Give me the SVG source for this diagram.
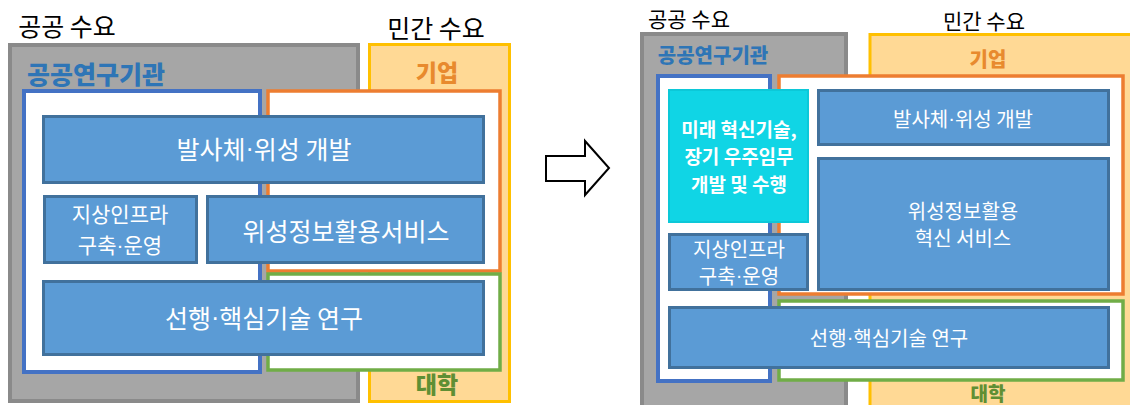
<svg xmlns="http://www.w3.org/2000/svg" width="1130" height="405" viewBox="0 0 1130 405">
<style>
text{font-family:"Noto Sans CJK KR","Noto Sans",sans-serif;text-anchor:middle;dominant-baseline:central}
.dot{font-family:"Liberation Sans",sans-serif}
.hdr{fill:#000;font-size:25px}
.hdr2{fill:#000;font-size:21px}
.gray{fill:#a6a6a6;stroke:#8a8a8a;stroke-width:4}
.yel{fill:#ffd995;stroke:#ffc000;stroke-width:3}
.org{fill:#2e75b6;font-weight:900}
.corp{fill:#e88a2e;font-weight:900}
.univ{fill:#5f8f34;font-weight:900}
.bluebox{fill:#fff;stroke:#4472c4;stroke-width:4}
.orbox{fill:#fff;stroke:#ed7d31;stroke-width:3.5}
.grbox{fill:#fff;stroke:#70ad47;stroke-width:3.5}
.blk{fill:#5b9bd5;stroke:#41719c;stroke-width:3}
.cyan{fill:#10d5e5;stroke:#0cc8d8;stroke-width:2}
.wt{fill:#fff}
</style>
<rect width="1130" height="405" fill="#fff"/>

<!-- LEFT DIAGRAM -->
<g id="left-public">
  <text class="hdr" x="67" y="25">공공 수요</text>
  <rect class="gray" x="10" y="45" width="348" height="356"/>
  <text class="org" x="96" y="73" font-size="25">공공연구기관</text>
</g>
<g id="left-private">
  <text class="hdr" x="436" y="27">민간 수요</text>
  <rect class="yel" x="369.5" y="44.5" width="140" height="357"/>
  <text class="corp" x="437" y="71" font-size="23">기업</text>
  <text class="univ" x="437" y="383" font-size="23">대학</text>
</g>
<g id="left-institute-area"><rect class="bluebox" x="24" y="91" width="236" height="281"/></g>
<g id="left-corp-area"><rect class="orbox" x="268" y="91" width="232" height="180"/></g>
<g id="left-univ-area"><rect class="grbox" x="268" y="274" width="232" height="96"/></g>
<g id="left-launch">
  <rect class="blk" x="43.5" y="116.5" width="440" height="66"/>
  <text class="wt" x="264" y="148" font-size="25">발사체<tspan class="dot">·</tspan>위성 개발</text>
</g>
<g id="left-ground">
  <rect class="blk" x="44.5" y="196.5" width="152" height="66"/>
  <text class="wt" x="120" y="213" font-size="21">지상인프라</text>
  <text class="wt" x="120" y="244" font-size="21">구축<tspan class="dot">·</tspan>운영</text>
</g>
<g id="left-service">
  <rect class="blk" x="207.5" y="196.5" width="276" height="66"/>
  <text class="wt" x="346" y="230" font-size="25">위성정보활용서비스</text>
</g>
<g id="left-research">
  <rect class="blk" x="43.5" y="281.5" width="440" height="73"/>
  <text class="wt" x="264" y="317" font-size="25">선행<tspan class="dot">·</tspan>핵심기술 연구</text>
</g>

<!-- CONNECTOR ARROW -->
<g id="connectors">
  <polygon points="546,156 585,156 585,141 609,168 585,195 585,181 546,181" fill="#fff" stroke="#000" stroke-width="2"/>
</g>

<!-- RIGHT DIAGRAM -->
<g id="right-public">
  <text class="hdr2" x="689" y="18">공공 수요</text>
  <rect class="gray" x="642" y="34" width="204" height="390"/>
  <text class="org" x="713" y="54" font-size="20">공공연구기관</text>
</g>
<g id="right-private">
  <text class="hdr2" x="984" y="20">민간 수요</text>
  <rect class="yel" x="870" y="34.5" width="280" height="390"/>
  <text class="corp" x="988" y="58" font-size="20">기업</text>
  <text class="univ" x="988" y="392" font-size="19">대학</text>
</g>
<g id="right-institute-area"><rect class="bluebox" x="658" y="76" width="112" height="305"/></g>
<g id="right-corp-area"><rect class="orbox" x="779" y="76" width="344" height="218"/></g>
<g id="right-univ-area"><rect class="grbox" x="779" y="301" width="344" height="79"/></g>
<g id="right-future">
  <rect class="cyan" x="669" y="90" width="139" height="132"/>
  <text class="wt" x="739" y="128" font-size="19" font-weight="bold">미래 혁신기술,</text>
  <text class="wt" x="739" y="155" font-size="19" font-weight="bold">장기 우주임무</text>
  <text class="wt" x="739" y="183" font-size="19" font-weight="bold">개발 및 수행</text>
</g>
<g id="right-ground">
  <rect class="blk" x="669.5" y="234.5" width="138" height="55"/>
  <text class="wt" x="739" y="248" font-size="20">지상인프라</text>
  <text class="wt" x="739" y="275" font-size="20">구축<tspan class="dot">·</tspan>운영</text>
</g>
<g id="right-launch">
  <rect class="blk" x="818.5" y="90.5" width="290" height="54"/>
  <text class="wt" x="963" y="118" font-size="20">발사체<tspan class="dot">·</tspan>위성 개발</text>
</g>
<g id="right-service">
  <rect class="blk" x="818.5" y="158.5" width="290" height="131"/>
  <text class="wt" x="963" y="210" font-size="20">위성정보활용</text>
  <text class="wt" x="963" y="237" font-size="20">혁신 서비스</text>
</g>
<g id="right-research">
  <rect class="blk" x="669.5" y="307.5" width="439" height="60"/>
  <text class="wt" x="889" y="337" font-size="20">선행<tspan class="dot">·</tspan>핵심기술 연구</text>
</g>
</svg>
